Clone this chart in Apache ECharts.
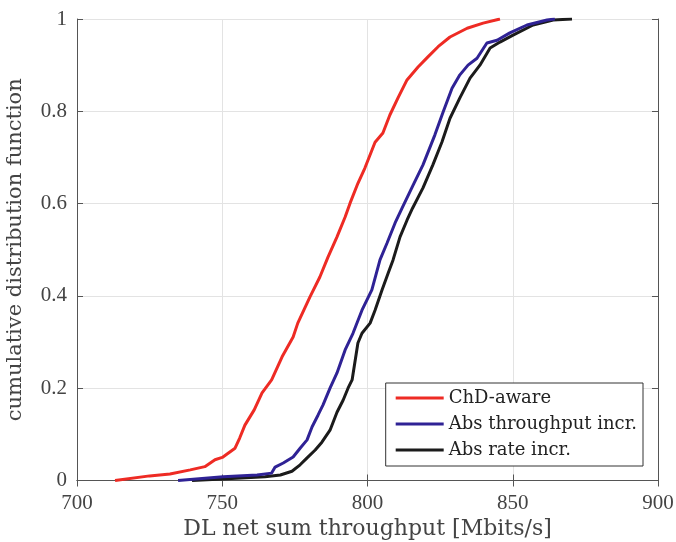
<!DOCTYPE html>
<html>
<head>
<meta charset="utf-8">
<script src="https://cdn.jsdelivr.net/npm/echarts@6/dist/echarts.min.js"></script>
<style>
  html, body { margin: 0; padding: 0; background: #fff; }
  #chart { width: 676px; height: 542px; }
</style>
</head>
<body>
<div id="chart"></div>
<script>
const chdX = [713.1, 725, 732, 739, 744, 747.5, 750, 754.4, 756, 757.8, 761, 763.7, 767, 770.6, 774.4, 776, 780.2,
  783.6, 786.4, 789.5, 792.3, 794, 796.7, 799.1, 802.6, 805.3, 807.7, 810.5, 813.6, 817.4, 820.8, 824.3, 828.4,
  834.3, 839.8, 845.6];
const chdY = [0, 0.01, 0.014, 0.023, 0.03, 0.045, 0.05, 0.07, 0.092, 0.12, 0.153, 0.19, 0.218, 0.268, 0.311, 0.341, 0.398,
  0.441, 0.484, 0.528, 0.571, 0.601, 0.644, 0.677, 0.733, 0.753, 0.792, 0.829, 0.868, 0.896, 0.918, 0.94, 0.961,
  0.98, 0.991, 1];

const absTputX = [734.8, 750.3, 762, 767, 768.2, 771, 774.4, 776.8, 779.2, 780.9, 783, 784.7, 787.1, 789.5, 792.3, 795,
  798.1, 801.5, 804.3, 806.7, 809.5, 811.9, 815.7, 819.1, 823.2, 826, 829.1, 831.8, 834.6, 837.7, 841.1, 844.6,
  849, 854.9, 861.8, 864.5];
const absTputY = [0, 0.008, 0.012, 0.016, 0.029, 0.038, 0.051, 0.07, 0.088, 0.116, 0.142, 0.164, 0.2, 0.233, 0.283, 0.319,
  0.369, 0.413, 0.478, 0.514, 0.558, 0.59, 0.64, 0.684, 0.749, 0.798, 0.85, 0.879, 0.9, 0.915, 0.948, 0.954,
  0.97, 0.987, 0.998, 1];

const absRateX = [739.6, 750, 764.7, 770, 774, 776.8, 779.2, 782, 784.3, 787.1, 789.5, 791.6, 793.3, 794.7, 796.7, 798.1,
  800.9, 802.6, 805, 807.1, 808.8, 811.2, 813.6, 815.5, 819.1, 822.5, 825.6, 828.4, 831.8, 835.3, 838.7, 842.2,
  845.6, 850.1, 857, 863.9, 870.4];
const absRateY = [0, 0.003, 0.008, 0.012, 0.02, 0.034, 0.049, 0.066, 0.083, 0.109, 0.148, 0.174, 0.2, 0.218, 0.298, 0.319,
  0.341, 0.369, 0.413, 0.449, 0.478, 0.528, 0.564, 0.59, 0.634, 0.684, 0.733, 0.785, 0.829, 0.872, 0.9, 0.937,
  0.95, 0.965, 0.987, 0.998, 1];

const seriesNames = ['ChD-aware', 'Abs throughput incr.', 'Abs rate incr.'];
const seriesColors = ['#ee2b24', '#2f2295', '#1b1b1b'];

// Liberation Serif matches the digit widths; DejaVu Serif comes closer to the wide LaTeX text.
const TICK_FONT = '"Liberation Serif", "DejaVu Serif", serif';
const TEXT_FONT = '"DejaVu Serif", "Liberation Serif", serif';
const AXIS_COLOR = '#555';
const TEXT_COLOR = '#444';

const zip = (xs, ys) => xs.map((x, i) => [x, ys[i]]);
const curves = [zip(chdX, chdY), zip(absTputX, absTputY), zip(absRateX, absRateY)];

const mirrorAxis = {
  axisLine: { show: true, lineStyle: { color: AXIS_COLOR, width: 1 } },
  axisTick: { show: true, inside: true, length: 6, lineStyle: { color: AXIS_COLOR } },
  axisLabel: { show: false },
  splitLine: { show: false },
};

const chart = echarts.init(document.getElementById('chart'), null, { renderer: 'canvas' });

chart.setOption({
  animation: false,
  backgroundColor: '#fff',
  textStyle: { fontFamily: TICK_FONT },
  // fixed plot box; keep v6 from shrinking it to fit the axis names
  grid: { left: 77, right: 18, top: 19, bottom: 61.5, containLabel: false, outerBoundsMode: 'none' },
  xAxis: [
    {
      type: 'value',
      min: 700,
      max: 900,
      interval: 50,
      name: 'DL net sum throughput [Mbits/s]',
      nameLocation: 'middle',
      nameGap: 30,
      nameTextStyle: { fontFamily: TEXT_FONT, fontSize: 22, color: TEXT_COLOR },
      axisLine: { show: true, onZero: false, lineStyle: { color: AXIS_COLOR, width: 1 } },
      axisTick: { show: true, inside: true, length: 6, lineStyle: { color: AXIS_COLOR } },
      axisLabel: { fontFamily: TICK_FONT, fontSize: 21, color: TEXT_COLOR, margin: 12 },
      splitLine: { show: true, lineStyle: { color: '#e3e3e3', width: 1 } },
    },
    Object.assign({ type: 'value', position: 'top', min: 700, max: 900, interval: 50 }, mirrorAxis),
  ],
  yAxis: [
    {
      type: 'value',
      min: 0,
      max: 1,
      interval: 0.2,
      name: 'cumulative distribution function',
      nameLocation: 'middle',
      nameGap: 51,
      nameTextStyle: { fontFamily: TEXT_FONT, fontSize: 21, color: TEXT_COLOR },
      axisLine: { show: true, onZero: false, lineStyle: { color: AXIS_COLOR, width: 1 } },
      axisTick: { show: true, inside: true, length: 6, lineStyle: { color: AXIS_COLOR } },
      axisLabel: {
        fontFamily: TICK_FONT,
        fontSize: 21,
        color: TEXT_COLOR,
        margin: 10,
        formatter: (v) => (v === 0 || v === 1 ? String(v) : v.toFixed(1)),
      },
      splitLine: { show: true, lineStyle: { color: '#e3e3e3', width: 1 } },
    },
    Object.assign({ type: 'value', position: 'right', min: 0, max: 1, interval: 0.2 }, mirrorAxis),
  ],
  legend: {
    orient: 'vertical',
    right: 33,
    top: 383,
    padding: [6, 6, 7, 10],
    itemGap: 8,
    itemWidth: 48,
    itemHeight: 3,
    icon: 'rect',
    borderColor: '#333',
    borderWidth: 1,
    borderRadius: 0,
    backgroundColor: '#fff',
    textStyle: { fontFamily: TEXT_FONT, fontSize: 18, lineHeight: 18, color: '#222' },
    data: seriesNames,
  },
  series: curves.map((data, i) => ({
    name: seriesNames[i],
    type: 'line',
    data,
    showSymbol: false,
    symbol: 'none',
    color: seriesColors[i],
    lineStyle: { color: seriesColors[i], width: 3 },
    z: 3 - i,
  })),
});
</script>
</body>
</html>
